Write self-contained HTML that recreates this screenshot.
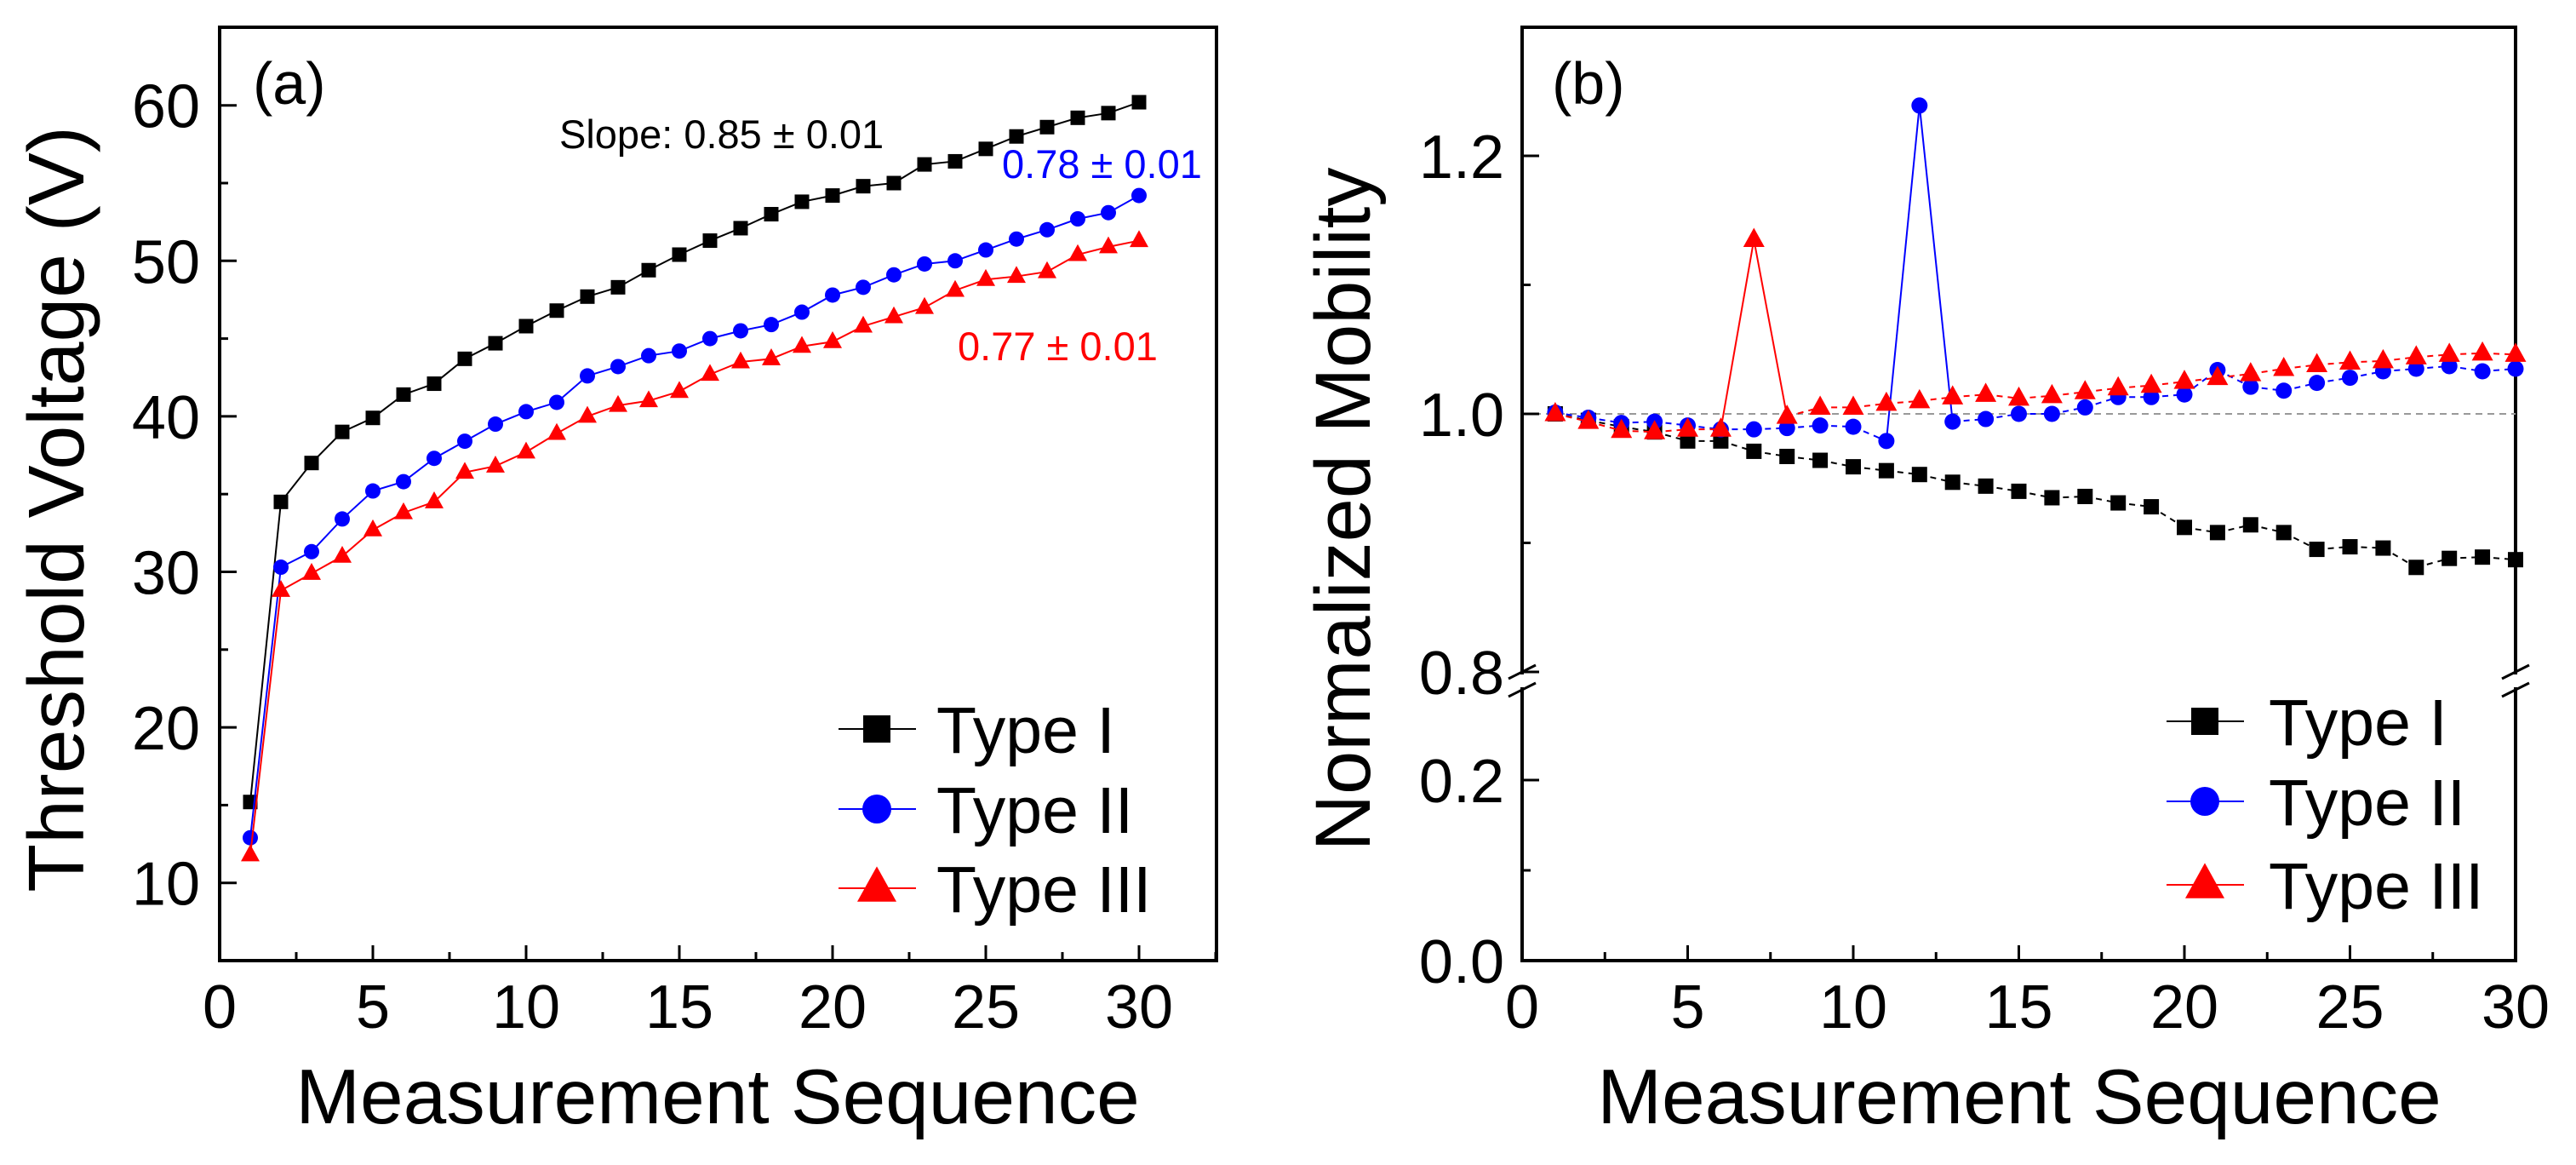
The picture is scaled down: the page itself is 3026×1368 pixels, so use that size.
<!DOCTYPE html>
<html><head><meta charset="utf-8"><style>
html,body{margin:0;padding:0;background:#fff;}
svg{display:block;font-family:"Liberation Sans",Arial,sans-serif;}
</style></head><body>
<svg id="chart" width="3026" height="1368" viewBox="0 0 3026 1368" xmlns="http://www.w3.org/2000/svg">
<rect width="3026" height="1368" fill="#fff"/>
<g id="pa"></g>
<g id="pb"></g>
</svg>
<script>
const seq = Array.from({length:30},(_,i)=>i+1);
const vthType1 = [15.2,34.5,37.0,39.0,39.9,41.4,42.1,43.7,44.7,45.8,46.8,47.7,48.3,49.4,50.4,51.3,52.1,53.0,53.8,54.2,54.8,55.0,56.2,56.4,57.2,58.0,58.6,59.2,59.5,60.2];
const vthType2 = [12.9,30.3,31.3,33.4,35.2,35.8,37.3,38.4,39.5,40.3,40.9,42.6,43.2,43.9,44.2,45.0,45.5,45.9,46.7,47.8,48.3,49.1,49.8,50.0,50.7,51.4,52.0,52.7,53.1,54.2];
const vthType3 = [11.8,28.8,29.9,31.0,32.7,33.8,34.5,36.4,36.8,37.7,38.9,40.0,40.7,41.0,41.6,42.7,43.5,43.7,44.5,44.8,45.8,46.4,47.0,48.1,48.8,49.0,49.3,50.4,50.9,51.3];
const mobType1 = [1.0,0.995,0.990,0.986,0.979,0.979,0.971,0.967,0.964,0.959,0.956,0.953,0.947,0.944,0.940,0.935,0.936,0.931,0.928,0.912,0.908,0.914,0.908,0.895,0.897,0.896,0.881,0.888,0.889,0.887];
const mobType2 = [1.001,0.997,0.993,0.994,0.991,0.988,0.988,0.989,0.991,0.990,0.979,1.239,0.994,0.996,1.0,1.0,1.005,1.013,1.013,1.015,1.034,1.021,1.018,1.024,1.028,1.033,1.035,1.037,1.033,1.035];
const mobType3 = [1.0,0.994,0.987,0.986,0.988,0.988,1.135,0.998,1.005,1.005,1.008,1.010,1.013,1.015,1.012,1.014,1.017,1.020,1.022,1.025,1.028,1.031,1.035,1.038,1.040,1.041,1.044,1.046,1.047,1.046];
const xTicks = [0,5,10,15,20,25,30];
const yTicksA = [10,20,30,40,50,60];
const yTicksBUpper = [0.8,1.0,1.2];
const yTicksBLower = [0.0,0.2];
const seriesNames = ["Type I","Type II","Type III"];
const slopeLabels = ["Slope: 0.85 \u00b1 0.01","0.78 \u00b1 0.01","0.77 \u00b1 0.01"];

const NS="http://www.w3.org/2000/svg";
function mk(parent,tag,attrs,text){const e=document.createElementNS(NS,tag);for(const k in attrs)e.setAttribute(k,attrs[k]);if(text!==undefined)e.textContent=text;parent.appendChild(e);return e;}
const colors=["#000","#0000ff","#ff0000"];
function marker(g,type,cx,cy,s,color){
  let e;
  if(type===0){e=mk(g,'rect',{x:cx-s/2,y:cy-s/2,width:s,height:s,fill:color});}
  else if(type===1){e=mk(g,'circle',{cx:cx,cy:cy,r:s/2,fill:color});}
  else {const h=s*0.9;e=mk(g,'polygon',{points:`${cx},${cy-h*0.62} ${cx-s/2},${cy+h*0.38} ${cx+s/2},${cy+h*0.38}`,fill:color});}
  return e;
}

// ---------- Panel A ----------
const pa=document.getElementById('pa');
const ax={l:258,r:1429,t:32,b:1128};
const xA=v=>258+36*v;
const yA=v=>1128-(v-5)*18.26;
let fr=mk(pa,'rect',{x:ax.l,y:ax.t,width:ax.r-ax.l,height:ax.b-ax.t,fill:'none',stroke:'#000','stroke-width':4});

for(let v=2.5;v<=32.5;v+=2.5){const maj=Math.abs(v/5-Math.round(v/5))<1e-6;mk(pa,'line',{x1:xA(v),x2:xA(v),y1:ax.b,y2:ax.b-(maj?18:10),stroke:'#000','stroke-width':3});}
xTicks.forEach(v=>{const t=mk(pa,'text',{x:xA(v),y:1207,'font-size':72,'text-anchor':'middle'},String(v));
});
for(let v=10;v<=60;v+=5){const maj=v%10===0;mk(pa,'line',{x1:ax.l,x2:ax.l+(maj?20:10),y1:yA(v),y2:yA(v),stroke:'#000','stroke-width':3});}
yTicksA.forEach(v=>{const t=mk(pa,'text',{x:235,y:yA(v)+26,'font-size':72,'text-anchor':'end'},String(v));
});
let t=mk(pa,'text',{x:843,y:1319,'font-size':91,'text-anchor':'middle'},'Measurement Sequence');

t=mk(pa,'text',{x:98,y:598,'font-size':93,'text-anchor':'middle',transform:'rotate(-90 98 598)'},'Threshold Voltage (V)');

t=mk(pa,'text',{x:297,y:122,'font-size':70},'(a)');

[vthType1,vthType2,vthType3].forEach((arr,si)=>{
  const g=mk(pa,'g',{});
  
  const pts=arr.map((v,i)=>xA(seq[i])+','+yA(v)).join(' ');
  mk(g,'polyline',{points:pts,fill:'none',stroke:colors[si],'stroke-width':2});
  arr.forEach((v,i)=>{const m=marker(g,si,xA(seq[i]),yA(v),si===2?22:(si===1?18:17),colors[si]);
    });
});
const slopePos=[[657,174],[1177,209],[1125,423]];
slopeLabels.forEach((s,i)=>{const e=mk(pa,'text',{x:slopePos[i][0],y:slopePos[i][1],'font-size':47,fill:colors[i]},s);
});
const legA=[856,950,1043];
seriesNames.forEach((n,i)=>{const g=mk(pa,'g',{});
  
  mk(g,'line',{x1:985,x2:1076,y1:legA[i],y2:legA[i],stroke:colors[i],'stroke-width':2});
  marker(g,i,1030,legA[i],i===2?46:(i===1?34:32),colors[i]);
  mk(g,'text',{x:1100,y:legA[i]+28,'font-size':77},n);});

// ---------- Panel B ----------
const pb=document.getElementById('pb');
const bx={l:1788,r:2955,t:32,b:1128};
const xB=v=>1788+38.9*v;
const yB=v=> v>=0.5 ? 789-(v-0.8)*1515 : 1128-v*1060;
const yBrkU=789,yBrkL=810;
fr=mk(pb,'rect',{x:bx.l,y:bx.t,width:bx.r-bx.l,height:bx.b-bx.t,fill:'none',stroke:'#000','stroke-width':4});

let rl=mk(pb,'line',{x1:bx.l,x2:bx.r,y1:yB(1.0),y2:yB(1.0),stroke:'#999','stroke-width':2,'stroke-dasharray':'8,6'});

for(let v=2.5;v<=30;v+=2.5){const maj=Math.abs(v/5-Math.round(v/5))<1e-6;mk(pb,'line',{x1:xB(v),x2:xB(v),y1:bx.b,y2:bx.b-(maj?18:10),stroke:'#000','stroke-width':3});}
xTicks.forEach(v=>{const t=mk(pb,'text',{x:xB(v),y:1207,'font-size':72,'text-anchor':'middle'},String(v));
});
[0.8,0.9,1.0,1.1,1.2,0.0,0.1,0.2].forEach(v=>{const maj=Math.round(v*10)%2===0;mk(pb,'line',{x1:bx.l,x2:bx.l+(maj?20:10),y1:yB(v),y2:yB(v),stroke:'#000','stroke-width':3});});
yTicksBUpper.concat(yTicksBLower).forEach(v=>{const t=mk(pb,'text',{x:1767,y:yB(v)+26,'font-size':72,'text-anchor':'end'},v.toFixed(1));
});
[bx.l,bx.r].forEach(x=>{const g=mk(pb,'g',{});
  
  mk(g,'rect',{x:x-6,y:yBrkU+3,width:12,height:yBrkL-yBrkU-6,fill:'#fff'});
  mk(g,'line',{x1:x-16,y1:yBrkU+8,x2:x+16,y2:yBrkU-8,stroke:'#000','stroke-width':3});
  mk(g,'line',{x1:x-16,y1:yBrkL+8,x2:x+16,y2:yBrkL-8,stroke:'#000','stroke-width':3});});
t=mk(pb,'text',{x:2372,y:1319,'font-size':91,'text-anchor':'middle'},'Measurement Sequence');

t=mk(pb,'text',{x:1609,y:598,'font-size':92,'text-anchor':'middle',transform:'rotate(-90 1609 598)'},'Normalized Mobility');

t=mk(pb,'text',{x:1823,y:122,'font-size':70},'(b)');

[mobType1,mobType2,mobType3].forEach((arr,si)=>{
  const g=mk(pb,'g',{});
  
  const peak = si===0 ? -1 : arr.indexOf(Math.max(...arr));
  for(let i=0;i<arr.length-1;i++){
    const solid = (i===peak || i+1===peak);
    mk(g,'line',{x1:xB(seq[i]),y1:yB(arr[i]),x2:xB(seq[i+1]),y2:yB(arr[i+1]),stroke:colors[si],'stroke-width':2,'stroke-dasharray':solid?'none':'7,6'});
  }
  arr.forEach((v,i)=>{const m=marker(g,si,xB(seq[i]),yB(v),si===2?25:(si===1?19:18),colors[si]);
    });
});
const legB=[847,941,1039];
seriesNames.forEach((n,i)=>{const g=mk(pb,'g',{});
  
  mk(g,'line',{x1:2545,x2:2636,y1:legB[i],y2:legB[i],stroke:colors[i],'stroke-width':2});
  marker(g,i,2590,legB[i],i===2?46:(i===1?34:32),colors[i]);
  mk(g,'text',{x:2665,y:legB[i]+28,'font-size':77},n);});
</script>
</body></html>
